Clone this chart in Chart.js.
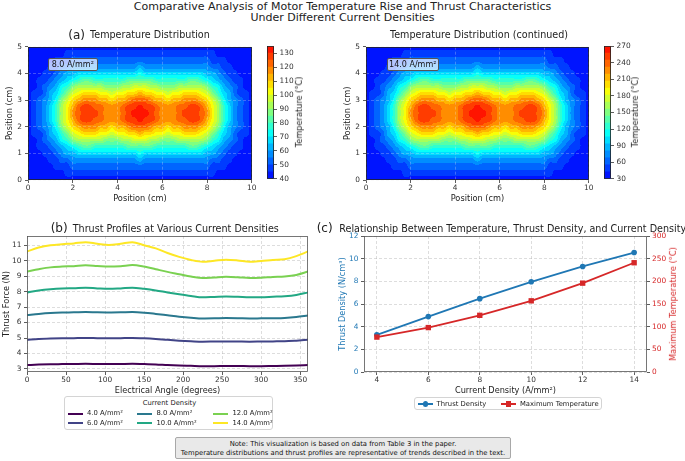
<!DOCTYPE html>
<html>
<head>
<meta charset="utf-8">
<title>Motor temperature rise and thrust</title>
<script src="https://cdn.jsdelivr.net/npm/chart.js@4.4.1/dist/chart.umd.min.js"></script>
<style>
  html, body { margin: 0; padding: 0; background: #fff; }
  #fig { position: relative; width: 685px; height: 461px; overflow: hidden; font-family: 'DejaVu Sans', sans-serif; color: #222; }
  #fig canvas { position: absolute; }
  .t { position: absolute; white-space: nowrap; line-height: 1; }
  .c { transform: translateX(-50%); }
  .rot { transform: translate(-50%, -50%) rotate(-90deg); font-size: 8.2px; }
  .tag { font-size: 12px; }
  .ttl { font-size: 9.6px; }
  .ann { position: absolute; box-sizing: border-box; display: flex; align-items: center; justify-content: center;
         background: rgba(255,255,255,0.7); border: 1px solid #555; border-radius: 2px; font-size: 8px; color: #111; }
  .legend { position: absolute; box-sizing: border-box; background: #fff; border: 1px solid #d4d4d4; border-radius: 3px; font-size: 6.8px; }
  .legend .lt { position: absolute; white-space: nowrap; line-height: 1; }
  .legend .ln { position: absolute; height: 2px; }
  .legend .mk { position: absolute; }
  .note { position: absolute; left: 175px; top: 437px; width: 336px; height: 22px; box-sizing: border-box;
          background: #e9e9e9; border: 1px solid #a8a8a8; border-radius: 2px; font-size: 6.8px; line-height: 9px;
          text-align: center; padding-top: 1.6px; color: #111; }
</style>
</head>
<body>
<div id="fig">
  <canvas id="heatA" width="258" height="170" style="left:0;top:40px"></canvas>
  <canvas id="cbarA" width="46" height="145" style="left:262px;top:40px"></canvas>
  <canvas id="heatB" width="257" height="170" style="left:338px;top:40px"></canvas>
  <canvas id="cbarB" width="46" height="145" style="left:599px;top:40px"></canvas>
  <canvas id="thrustChart" width="313" height="185" style="left:0;top:215px"></canvas>
  <canvas id="relationChart" width="355" height="185" style="left:330px;top:215px"></canvas>

  <div class="t c" style="left:342.5px;top:0.8px;font-size:11px">Comparative Analysis of Motor Temperature Rise and Thrust Characteristics</div>
  <div class="t c" style="left:342.5px;top:12px;font-size:11px">Under Different Current Densities</div>

  <div class="t tag" style="left:68.3px;top:28.9px">(a)</div>
  <div class="t ttl" style="left:90px;top:30.4px">Temperature Distribution</div>
  <div class="t ttl c" style="left:479px;top:30.4px">Temperature Distribution (continued)</div>

  <div class="ann" style="left:48px;top:57.5px;width:49.5px;height:13.5px">8.0 A/mm²</div>
  <div class="ann" style="left:386.5px;top:57.5px;width:52.5px;height:13.5px">14.0 A/mm²</div>

  <div class="t rot" style="left:298.5px;top:112px">Temperature (°C)</div>
  <div class="t rot" style="left:635px;top:112px">Temperature (°C)</div>

  <div class="t tag" style="left:50.7px;top:221.6px">(b)</div>
  <div class="t ttl" style="left:72.7px;top:223.7px">Thrust Profiles at Various Current Densities</div>
  <div class="t tag" style="left:316.7px;top:221.6px">(c)</div>
  <div class="t ttl" style="left:339.3px;top:223.7px">Relationship Between Temperature, Thrust Density, and Current Density</div>

  <div class="t rot" style="left:672.5px;top:304px;color:#d62728">Maximum Temperature (°C)</div>

  <div class="legend" id="legB" style="left:64px;top:396px;width:209px;height:34px"></div>
  <div class="legend" id="legC" style="left:413.6px;top:397px;width:188.4px;height:13px"></div>

  <div class="note">Note: This visualization is based on data from Table 3 in the paper.<br>Temperature distributions and thrust profiles are representative of trends described in the text.</div>
</div>

<script>
// ---------- data ----------
// heatmap grid (cm); each row string gives the contour band (0-18, base 36) at every x position
const heatX = [0, 0.25, 0.5, 0.75, 1, 1.25, 1.5, 1.75, 2, 2.25, 2.5, 2.75, 3, 3.25, 3.5, 3.75, 4, 4.25, 4.5, 4.75, 5,
               5.25, 5.5, 5.75, 6, 6.25, 6.5, 6.75, 7, 7.25, 7.5, 7.75, 8, 8.25, 8.5, 8.75, 9, 9.25, 9.5, 9.75, 10];
const heatY = [5, 4.75, 4.5, 4.25, 4, 3.75, 3.5, 3.25, 3, 2.75, 2.5, 2.25, 2, 1.75, 1.5, 1.25, 1, 0.75, 0.5, 0.25, 0];
const heatRows = [
  '0000000000 0000000000 0 0000000000 0000000000',
  '0000000111 1111111111 1 1111111111 1110000000',
  '0000011122 2222222222 2 2222222222 2211100000',
  '0000112233 3333333333 4 3333333333 3322110000',
  '0001123445 5555555555 6 5555555555 5443211000',
  '0011234567 8877777788 8 8877777788 7654321100',
  '001234679a aaaa999aab b baa999aaaa a976432100',
  '01124579bc dddccbccdd e ddccbccddd cb97542110',
  '0123469bde fffeedeefg g gfeedeefff edb9643210',
  '012357aceg hhggfffghh i hhgfffgghh geca753210',
  '012357acfg hhhgfffghi i ihgfffghhh gfca753210',
  '012357aceg hhggfffghh i hhgfffgghh geca753210',
  '0123469bde fffeedeefg g gfeedeefff edb9643210',
  '01124579bc dddccbccdd e ddccbccddd cb97542110',
  '001234679a aaaa999aab b baa999aaaa a976432100',
  '0011234567 8877777788 8 8877777788 7654321100',
  '0001123445 5555555555 6 5555555555 5443211000',
  '0000112233 3333333333 4 3333333333 3322110000',
  '0000011122 2222222222 2 2222222222 2211100000',
  '0000000111 1111111111 1 1111111111 1110000000',
  '0000000000 0000000000 0 0000000000 0000000000'
];
const levelsA = [40, 45, 50, 55, 60, 65, 70, 75, 80, 85, 90, 95, 100, 105, 110, 115, 120, 125, 130, 135];
const levelsB = [30, 42.63, 55.26, 67.89, 80.53, 93.16, 105.79, 118.42, 131.05, 143.68, 156.32, 168.95,
                 181.58, 194.21, 206.84, 219.47, 232.11, 244.74, 257.37, 270];
const heatTicksX = [0, 2, 4, 6, 8, 10];
const heatTicksY = [0, 1, 2, 3, 4, 5];
const cbarTicksA = [40, 50, 60, 70, 80, 90, 100, 110, 120, 130];
const cbarTicksB = [30, 60, 90, 120, 150, 180, 210, 240, 270];

// thrust profiles (N) against electrical angle
const angles = [0, 15, 30, 45, 60, 75, 90, 105, 120, 135, 150, 165, 180, 195, 210, 225, 240, 255, 270, 285, 300, 315, 330, 345, 360];
const densityLabels = ['4.0 A/mm²', '6.0 A/mm²', '8.0 A/mm²', '10.0 A/mm²', '12.0 A/mm²', '14.0 A/mm²'];
const thrust4  = [3.25, 3.28, 3.3, 3.31, 3.32, 3.33, 3.32, 3.31, 3.32, 3.33, 3.31, 3.29, 3.25, 3.22, 3.2, 3.18, 3.18, 3.19, 3.19, 3.18, 3.18, 3.19, 3.2, 3.22, 3.25];
const thrust6  = [4.88, 4.93, 4.96, 4.98, 4.99, 5.0, 4.99, 4.98, 4.99, 5.0, 4.98, 4.94, 4.88, 4.83, 4.79, 4.76, 4.77, 4.78, 4.77, 4.76, 4.77, 4.78, 4.79, 4.83, 4.88];
const thrust8  = [6.48, 6.56, 6.62, 6.65, 6.66, 6.68, 6.66, 6.65, 6.66, 6.68, 6.64, 6.56, 6.47, 6.38, 6.31, 6.26, 6.27, 6.29, 6.28, 6.26, 6.27, 6.28, 6.3, 6.36, 6.46];
const thrust10 = [7.95, 8.07, 8.15, 8.2, 8.22, 8.25, 8.21, 8.18, 8.21, 8.25, 8.18, 8.08, 7.95, 7.83, 7.72, 7.63, 7.66, 7.69, 7.67, 7.63, 7.64, 7.67, 7.7, 7.78, 7.95];
const thrust12 = [9.3, 9.45, 9.57, 9.62, 9.65, 9.7, 9.66, 9.62, 9.65, 9.72, 9.62, 9.45, 9.28, 9.13, 8.98, 8.88, 8.92, 8.96, 8.93, 8.88, 8.9, 8.95, 8.98, 9.08, 9.3];
const thrust14 = [10.6, 10.85, 11.0, 11.07, 11.12, 11.2, 11.1, 11.02, 11.1, 11.2, 11.0, 10.8, 10.5, 10.25, 10.05, 9.93, 10.0, 10.07, 10.02, 9.93, 9.98, 10.05, 10.1, 10.3, 10.6];
const angleTicks = [0, 50, 100, 150, 200, 250, 300, 350];
const thrustTicks = [3, 4, 5, 6, 7, 8, 9, 10, 11];

// summary vs current density
const currentDensity = [4, 6, 8, 10, 12, 14];
const thrustDensity = [3.28, 4.89, 6.47, 7.96, 9.31, 10.54];
const maxTemperature = [77, 98, 125, 157, 196, 241];
const currentTicks = [4, 6, 8, 10, 12, 14];
const densityTicks = [0, 2, 4, 6, 8, 10, 12];
const tempTicks = [0, 50, 100, 150, 200, 250, 300];

// ---------- styles ----------
Chart.defaults.font.family = "'DejaVu Sans', sans-serif";
Chart.defaults.color = '#333';

const ink = '#333';
const tickFont = { size: 7.4, lineHeight: 1 };
const labelFont = { size: 8.2 };
const lineColors = ['#440154', '#414487', '#2a788e', '#22a884', '#7ad151', '#fde725'];
const blue = '#1f77b4';
const red = '#d62728';

// blue -> cyan -> yellow -> red
function heatRGB(t) {
  let r, g, b;
  if (t < 1 / 3) { const u = t * 3; r = 0; g = 255 * u; b = 255; }
  else if (t < 2 / 3) { const u = (t - 1 / 3) * 3; r = 255 * u; g = 255; b = 255 * (1 - u); }
  else { const u = (t - 2 / 3) * 3; r = 255; g = 255 * (1 - u); b = 0; }
  return [Math.round(r), Math.round(g), Math.round(b)];
}
const bandCount = levelsA.length - 1;
const bandRGB = [];
for (let i = 0; i < bandCount; i++) bandRGB.push(heatRGB((i + 0.5) / bandCount));
const bandColors = bandRGB.map(c => 'rgb(' + c.join(',') + ')');

const heatData = [];
heatRows.forEach((row, j) => {
  const codes = row.replace(/ /g, '');
  heatX.forEach((xv, i) => heatData.push({ x: xv, y: heatY[j], band: parseInt(codes[i], 36) }));
});

const fixed = vals => scale => { scale.ticks = vals.map(v => ({ value: v })); };

// fractional position of v inside a monotonic list
function locate(arr, v) {
  const n = arr.length, asc = arr[n - 1] > arr[0];
  for (let k = 0; k < n - 1; k++) {
    const a0 = arr[k], a1 = arr[k + 1];
    if ((asc && v <= a1) || (!asc && v >= a1)) {
      return k + Math.max(0, Math.min(1, (v - a0) / (a1 - a0)));
    }
  }
  return n - 1;
}
// Catmull-Rom weights
function crWeights(t) {
  const t2 = t * t, t3 = t2 * t;
  return [(-t3 + 2 * t2 - t) / 2, (3 * t3 - 5 * t2 + 2) / 2, (-3 * t3 + 4 * t2 + t) / 2, (t3 - t2) / 2];
}

// ---------- plugins ----------
const frame = {
  id: 'frame',
  afterDraw(chart, args, opts) {
    const { ctx, chartArea: a } = chart;
    ctx.save();
    ctx.strokeStyle = opts.color;
    ctx.lineWidth = opts.width;
    ctx.strokeRect(Math.round(a.left) + 0.5, Math.round(a.top) + 0.5, Math.round(a.width) - 1, Math.round(a.height) - 1);
    ctx.restore();
  }
};

// filled contour bands from the cell grid, painted under the grid lines
const heatCells = {
  id: 'heatCells',
  beforeDraw(chart) {
    const { ctx, chartArea: a, scales: { x, y } } = chart;
    const ds = chart.data.datasets[0];
    const xs = [...new Set(ds.data.map(p => p.x))];
    const ys = [...new Set(ds.data.map(p => p.y))];
    const nx = xs.length, ny = ys.length;
    const v = (i, j) => {
      i = Math.max(0, Math.min(nx - 1, i));
      j = Math.max(0, Math.min(ny - 1, j));
      return ds.data[j * nx + i].band + 0.5;
    };
    const l = Math.round(a.left), t = Math.round(a.top);
    const w = Math.round(a.right) - l, h = Math.round(a.bottom) - t;
    const img = ctx.createImageData(w, h);
    const cols = [];
    for (let px = 0; px < w; px++) {
      const fi = locate(xs, x.getValueForPixel(l + px + 0.5));
      const i0 = Math.floor(fi);
      cols.push({ i0, wx: crWeights(fi - i0) });
    }
    for (let py = 0; py < h; py++) {
      const fj = locate(ys, y.getValueForPixel(t + py + 0.5));
      const j0 = Math.floor(fj), wy = crWeights(fj - j0);
      for (let px = 0; px < w; px++) {
        const { i0, wx } = cols[px];
        let val = 0;
        for (let m = 0; m < 4; m++) {
          let row = 0;
          for (let n = 0; n < 4; n++) row += wx[n] * v(i0 - 1 + n, j0 - 1 + m);
          val += wy[m] * row;
        }
        const band = Math.max(0, Math.min(ds.bandRGB.length - 1, Math.floor(val)));
        const c = ds.bandRGB[band];
        const k = (py * w + px) * 4;
        img.data[k] = c[0]; img.data[k + 1] = c[1]; img.data[k + 2] = c[2]; img.data[k + 3] = 255;
      }
    }
    ctx.putImageData(img, l, t);
  }
};

const base = { responsive: false, animation: false, events: [], devicePixelRatio: 1 };

// ---------- heatmaps ----------
function heatmap(id) {
  return new Chart(document.getElementById(id), {
    type: 'scatter',
    data: { datasets: [{ data: heatData, pointRadius: 0, bandRGB: bandRGB }] },
    options: Object.assign({}, base, {
      layout: { padding: { top: 4, right: 5, bottom: 0, left: 0 } },
      plugins: { legend: { display: false }, tooltip: { enabled: false }, frame: { color: '#222', width: 0.8 } },
      scales: {
        x: {
          type: 'linear', min: 0, max: 10,
          afterBuildTicks: fixed(heatTicksX),
          afterFit: s => { s.height = 30; },
          ticks: { font: tickFont, color: ink, padding: 1.5, maxRotation: 0, autoSkip: false },
          grid: { color: 'rgba(235,235,235,0.35)', lineWidth: 0.8, tickColor: ink, tickLength: 3, tickWidth: 0.8, tickBorderDash: [] },
          border: { display: false, dash: [3, 2] },
          title: { display: true, text: 'Position (cm)', font: labelFont, color: '#222', padding: { top: 0, bottom: 6.6 } }
        },
        y: {
          type: 'linear', min: 0, max: 5,
          afterBuildTicks: fixed(heatTicksY),
          afterFit: s => { s.width = 28; },
          ticks: { font: tickFont, color: ink, padding: 3 },
          grid: { color: 'rgba(235,235,235,0.35)', lineWidth: 0.8, tickColor: ink, tickLength: 3, tickWidth: 0.8, tickBorderDash: [] },
          border: { display: false, dash: [3, 2] },
          title: { display: true, text: 'Position (cm)', font: labelFont, color: '#222', padding: { top: 5.4, bottom: 0 } }
        }
      }
    }),
    plugins: [heatCells, frame]
  });
}

function colorbar(id, levels, ticks) {
  return new Chart(document.getElementById(id), {
    type: 'bar',
    data: {
      labels: [''],
      datasets: bandColors.map((c, i) => ({
        data: [[levels[i], levels[i + 1]]], backgroundColor: c, borderWidth: 0,
        barPercentage: 1, categoryPercentage: 1, grouped: false
      }))
    },
    options: Object.assign({}, base, {
      layout: { padding: { top: 4, right: 0, bottom: 5, left: 5 } },
      plugins: { legend: { display: false }, tooltip: { enabled: false }, frame: { color: '#222', width: 0.8 } },
      scales: {
        x: { display: false },
        y: {
          position: 'right', min: levels[0], max: levels[levels.length - 1],
          afterBuildTicks: fixed(ticks),
          afterFit: s => { s.width = 34; },
          ticks: { font: tickFont, color: ink, padding: 2.5 },
          grid: { drawOnChartArea: false, tickLength: 3, tickColor: ink, tickWidth: 0.8 },
          border: { display: false }
        }
      }
    }),
    plugins: [frame]
  });
}

heatmap('heatA');
colorbar('cbarA', levelsA, cbarTicksA);
heatmap('heatB');
colorbar('cbarB', levelsB, cbarTicksB);

// ---------- (b) thrust profiles ----------
const lightGrid = { color: 'rgba(176,176,176,0.55)', lineWidth: 0.8, tickColor: ink, tickLength: 3, tickWidth: 0.8, tickBorderDash: [] };
const thrustSeries = [thrust4, thrust6, thrust8, thrust10, thrust12, thrust14];

new Chart(document.getElementById('thrustChart'), {
  type: 'line',
  data: {
    datasets: thrustSeries.map((vals, k) => ({
      label: densityLabels[k],
      data: angles.map((a, i) => ({ x: a, y: vals[i] })),
      borderColor: lineColors[k], borderWidth: 2, pointRadius: 0,
      cubicInterpolationMode: 'monotone', fill: false
    }))
  },
  options: Object.assign({}, base, {
    layout: { padding: { top: 21, right: 5, bottom: 0, left: 0 } },
    plugins: { legend: { display: false }, tooltip: { enabled: false }, frame: { color: '#555', width: 0.8 } },
    scales: {
      x: {
        type: 'linear', min: 0, max: 360,
        afterBuildTicks: fixed(angleTicks),
        afterFit: s => { s.height = 28; },
        ticks: { font: tickFont, color: ink, padding: 1.5, maxRotation: 0, autoSkip: false },
        grid: lightGrid,
        border: { display: false, dash: [3, 2] },
        title: { display: true, text: 'Electrical Angle (degrees)', font: labelFont, color: '#222', padding: { top: 0, bottom: 4.2 } }
      },
      y: {
        type: 'linear', min: 2.8, max: 11.6,
        afterBuildTicks: fixed(thrustTicks),
        afterFit: s => { s.width = 27; },
        ticks: { font: tickFont, color: ink, padding: 2.5 },
        grid: lightGrid,
        border: { display: false, dash: [3, 2] },
        title: { display: true, text: 'Thrust Force (N)', font: labelFont, color: '#222', padding: { top: 1.8, bottom: 0 } }
      }
    }
  }),
  plugins: [frame]
});

// ---------- (c) relationship ----------
new Chart(document.getElementById('relationChart'), {
  type: 'line',
  data: {
    datasets: [
      {
        label: 'Thrust Density', yAxisID: 'y', order: 1,
        data: currentDensity.map((c, i) => ({ x: c, y: thrustDensity[i] })),
        borderColor: blue, backgroundColor: blue, borderWidth: 1.8,
        pointStyle: 'circle', pointRadius: 2.8, pointBorderWidth: 0, tension: 0
      },
      {
        label: 'Maximum Temperature', yAxisID: 'y1', order: 0,
        data: currentDensity.map((c, i) => ({ x: c, y: maxTemperature[i] })),
        borderColor: red, backgroundColor: red, borderWidth: 1.8,
        pointStyle: 'rect', pointRadius: 3.8, pointBorderWidth: 0, tension: 0
      }
    ]
  },
  options: Object.assign({}, base, {
    layout: { padding: { top: 21, right: 0, bottom: 0, left: 0 } },
    plugins: { legend: { display: false }, tooltip: { enabled: false }, frame: { color: '#555', width: 0.8 } },
    scales: {
      x: {
        type: 'linear', min: 3.5, max: 14.5,
        afterBuildTicks: fixed(currentTicks),
        afterFit: s => { s.height = 28; },
        ticks: { font: tickFont, color: ink, padding: 1.5, maxRotation: 0, autoSkip: false },
        grid: lightGrid,
        border: { display: false, dash: [3, 2] },
        title: { display: true, text: 'Current Density (A/mm²)', font: labelFont, color: '#222', padding: { top: 0, bottom: 4.2 } }
      },
      y: {
        type: 'linear', position: 'left', min: 0, max: 12,
        afterBuildTicks: fixed(densityTicks),
        afterFit: s => { s.width = 34; },
        ticks: { font: tickFont, color: blue, padding: 2.5 },
        grid: lightGrid,
        border: { display: false, dash: [3, 2] },
        title: { display: true, text: 'Thrust Density (N/cm³)', font: labelFont, color: blue, padding: { top: 8.4, bottom: 0 } }
      },
      y1: {
        type: 'linear', position: 'right', min: 0, max: 300,
        afterBuildTicks: fixed(tempTicks),
        afterFit: s => { s.width = 38; },
        ticks: { font: tickFont, color: red, padding: 2 },
        grid: { drawOnChartArea: false, tickColor: ink, tickLength: 3, tickWidth: 0.8 },
        border: { display: false }
      }
    }
  }),
  plugins: [frame]
});

// ---------- legends ----------
function addText(box, text, left, top) {
  const d = document.createElement('div');
  d.className = 'lt';
  d.style.left = left + 'px';
  d.style.top = top + 'px';
  d.textContent = text;
  box.appendChild(d);
  return d;
}
function addLine(box, color, left, width, cy) {
  const d = document.createElement('div');
  d.className = 'ln';
  d.style.left = left + 'px';
  d.style.width = width + 'px';
  d.style.top = (cy - 1) + 'px';
  d.style.background = color;
  box.appendChild(d);
}
function addMarker(box, color, cx, cy, size, round) {
  const d = document.createElement('div');
  d.className = 'mk';
  d.style.left = (cx - size / 2) + 'px';
  d.style.top = (cy - size / 2) + 'px';
  d.style.width = size + 'px';
  d.style.height = size + 'px';
  d.style.background = color;
  if (round) d.style.borderRadius = '50%';
  box.appendChild(d);
}

const legB = document.getElementById('legB');
const titleB = addText(legB, 'Current Density', 104.5, 2.7);
titleB.style.transform = 'translateX(-50%)';
const colLine = [3, 72, 147.5];
const colText = [22, 91.5, 167.5];
const rowY = [16.7, 26.3];
densityLabels.forEach((lab, k) => {
  const col = Math.floor(k / 2), row = k % 2;
  addLine(legB, lineColors[k], colLine[col], 15, rowY[row]);
  addText(legB, lab, colText[col], rowY[row] - 3.3);
});

const legC = document.getElementById('legC');
addLine(legC, blue, 3, 15.4, 6);
addMarker(legC, blue, 10.7, 6, 5.4, true);
addText(legC, 'Thrust Density', 22, 2.7);
addLine(legC, red, 86.4, 15.4, 6);
addMarker(legC, red, 94.1, 6, 5.2, false);
addText(legC, 'Maximum Temperature', 105.4, 2.7);
</script>
</body>
</html>
